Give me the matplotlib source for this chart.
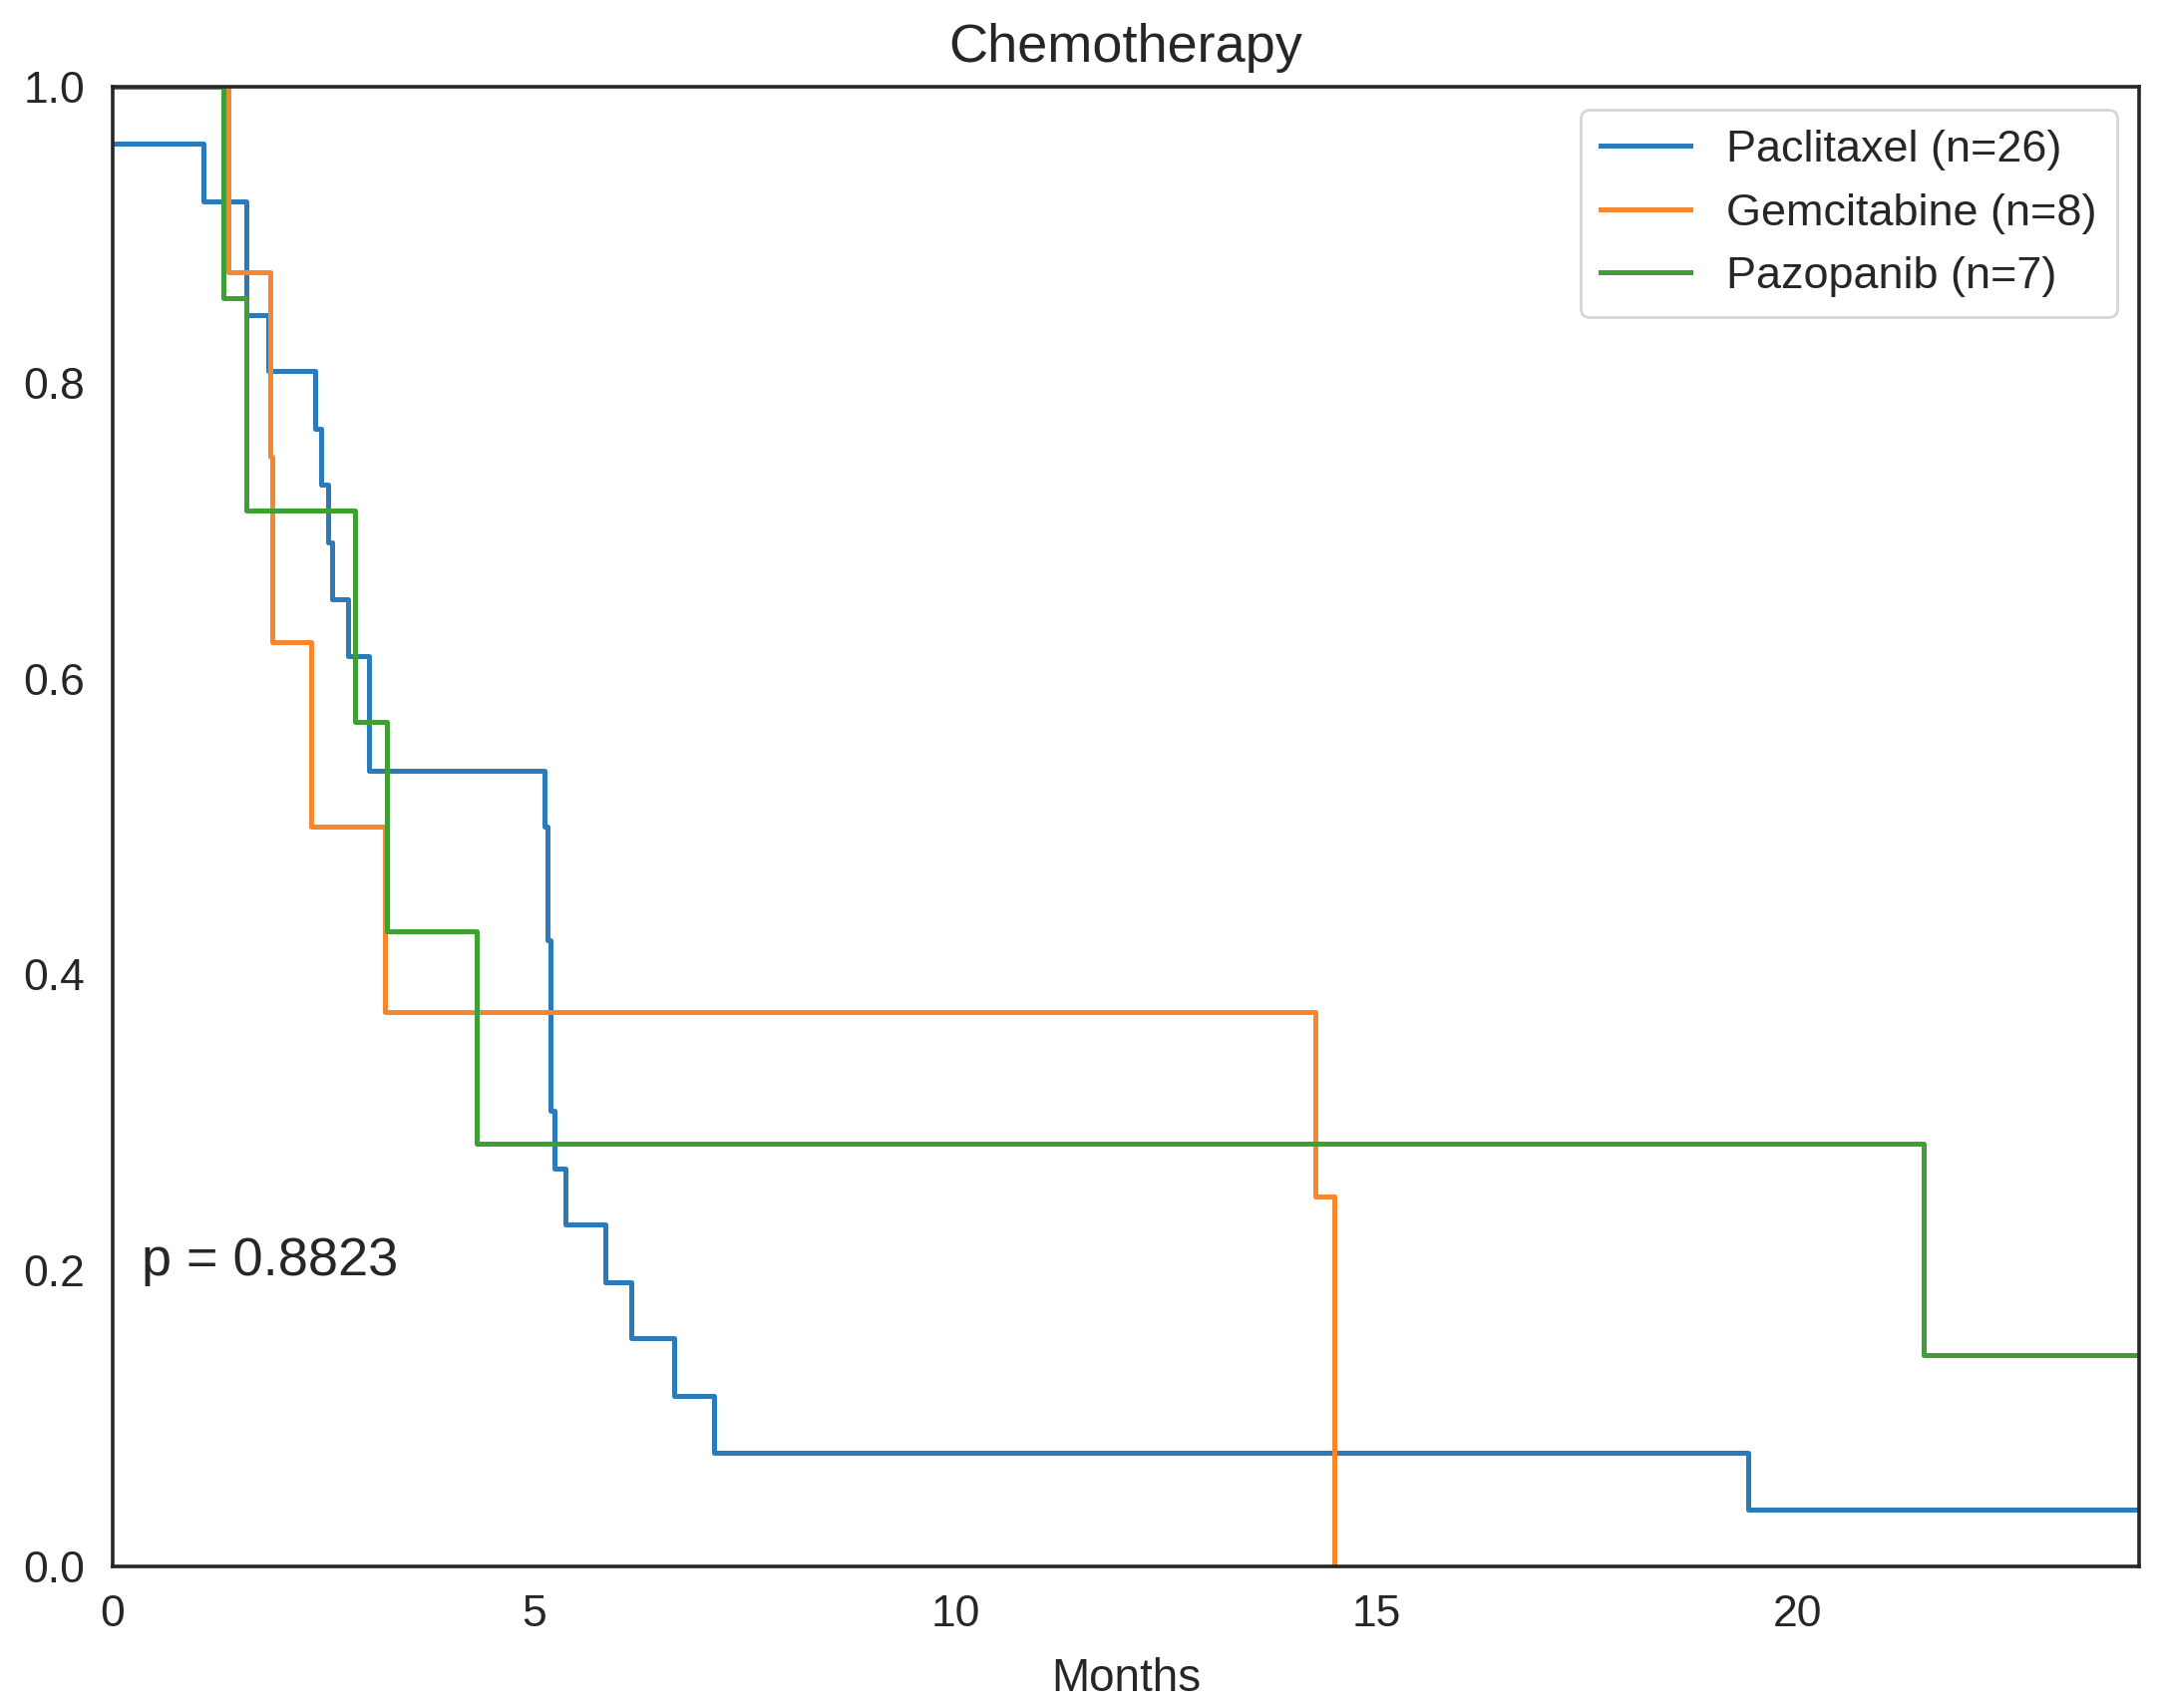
import matplotlib
matplotlib.use("Agg")
import matplotlib.pyplot as plt

# ---- data ----
pac_times = [0, 1.08, 1.59, 1.85, 2.41, 2.47, 2.56, 2.60, 2.80, 3.04, 5.13, 5.16, 5.20, 5.24, 5.37, 5.85, 6.16, 6.67, 7.14, 19.41, 24.05]
pac_surv  = [0.962, 0.923, 0.846, 0.808, 0.769, 0.731, 0.692, 0.654, 0.615, 0.538, 0.500, 0.423, 0.308, 0.269, 0.231, 0.192, 0.154, 0.115, 0.077, 0.0385, 0.0385]

gem_times = [0, 1.37, 1.87, 1.90, 2.36, 3.23, 14.27, 14.50]
gem_surv  = [1.0, 0.875, 0.75, 0.625, 0.5, 0.375, 0.25, 0.0]

paz_times = [0, 1.31, 1.59, 2.88, 3.26, 4.32, 21.49, 24.05]
paz_surv  = [1.0, 0.857, 0.714, 0.571, 0.429, 0.286, 0.143, 0.143]

labels = ["Paclitaxel (n=26)", "Gemcitabine (n=8)", "Pazopanib (n=7)"]
colors = ["#2b7bba", "#f7872e", "#3f9f35"]
x_ticks = [0, 5, 10, 15, 20]
y_ticks = [0.0, 0.2, 0.4, 0.6, 0.8, 1.0]
p_text = "p = 0.8823"
title = "Chemotherapy"
xlabel = "Months"

plt.rcParams['font.family'] = ['Liberation Sans', 'DejaVu Sans']

fig = plt.figure(figsize=(10.85, 8.565), dpi=200)
ax = fig.add_axes([0.052, 0.083, 0.9365, 0.866])

series = [(pac_times, pac_surv), (gem_times, gem_surv), (paz_times, paz_surv)]
for (t, s), lab, c in zip(series, labels, colors):
    ax.step(t, s, where='post', color=c, lw=1.8, label=lab)

ax.set_xlim(0, 24.05)
ax.set_ylim(0, 1.0)
ax.set_xticks(x_ticks)
ax.set_yticks(y_ticks)
ax.set_yticklabels([f"{v:.1f}" for v in y_ticks])
ax.tick_params(axis='both', length=0, labelsize=16, colors='#262626')
ax.tick_params(axis='x', pad=10)
ax.tick_params(axis='y', pad=10)
for sp in ax.spines.values():
    sp.set_color('#262626')
    sp.set_linewidth(1.3)

ax.set_title(title, fontsize=19.5, color='#262626', pad=9)
ax.set_xlabel(xlabel, fontsize=16.5, color='#262626', labelpad=8)

ax.text(0.34, 0.197, p_text, fontsize=19.5, color='#262626', va='baseline', ha='left')

leg = ax.legend(loc='upper right', fontsize=16.2, frameon=True, fancybox=True,
                borderpad=0.45, labelspacing=0.5, handlelength=2.0, handletextpad=0.8)
leg.get_frame().set_edgecolor('#cccccc')
leg.get_frame().set_linewidth(1.0)
for text in leg.get_texts():
    text.set_color('#262626')

fig.savefig("out.png", dpi=200, facecolor='white')
